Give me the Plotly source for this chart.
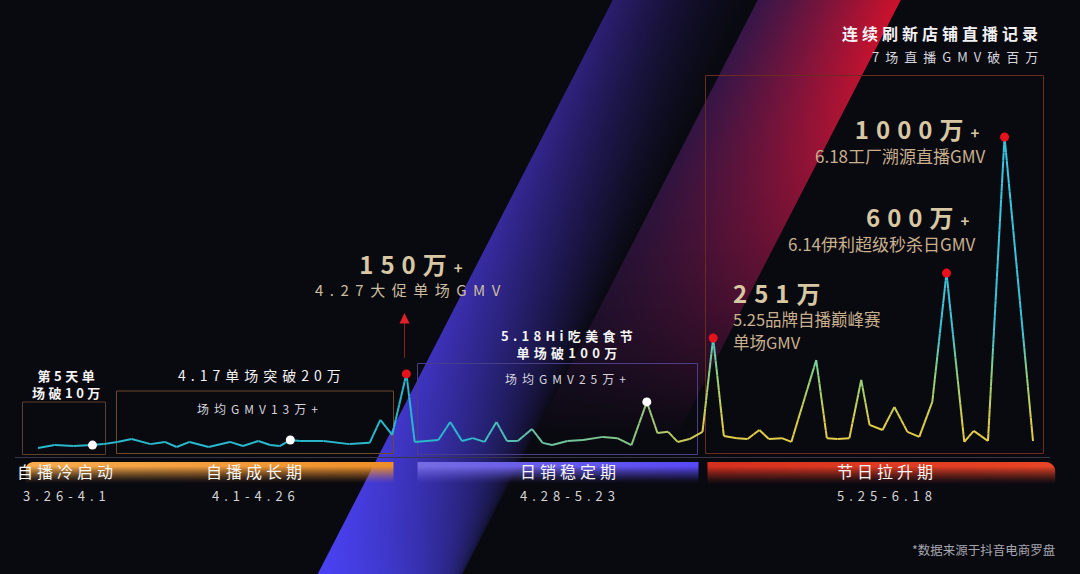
import base64
import math
import struct
import zlib

import numpy as np
import plotly.graph_objects as go

W, H = 1080, 574
FONT = "Noto Sans CJK SC"

# ---------------- data ----------------
# position along the timeline (days after 3.26, as placed in the picture)
t_pos = [0, 1.4, 3.0, 4.6, 5.5, 6.7, 7.9, 9.5, 10.7, 11.7, 12.8, 14.4, 16.2, 17.3,
         18.6, 19.6, 20.4, 21.3, 22.1, 24.1, 26.3, 28.0, 28.9, 29.9,
         31.1,
         31.8, 33.8, 34.8, 35.8, 36.7, 37.7, 38.7, 39.6, 40.5, 41.7, 42.6, 43.4,
         44.7, 46.0, 47.7, 48.9, 50.1, 51.4, 52.3, 53.2, 54.0, 55.0, 56.1,
         57.0,
         57.9, 59.0, 59.9, 60.9, 61.7, 62.8, 63.6, 65.7, 66.6, 67.5, 68.5, 69.5,
         70.2, 71.3, 72.3, 73.4, 74.4, 75.5, 76.7, 78.2, 79.0, 80.2, 81.6, 84.0]
# height of the curve in display units (schematic; 6.18 peak = 1000)
gmv_level = [13, 22, 19, 22, 25, 32, 41, 25, 32, 16, 32, 16, 32, 19, 35, 22, 19, 38,
             35, 35, 25, 29, 102, 54,
             248,
             32, 38, 95, 35, 44, 32, 95, 35, 35, 73, 29, 22, 35, 38, 48, 44, 22, 159,
             60, 64, 32, 41, 64,
             362,
             51, 44, 41, 70, 41, 44, 32, 292, 44, 41, 44, 229, 86, 70, 143, 64, 48,
             159, 568, 32, 67, 35, 1000, 35]
red_idx = [24, 48, 67, 71]      # record sessions
white_idx = [3, 17, 42]         # milestones

stage_names = ["自播冷启动", "自播成长期", "日销稳定期", "节日拉升期"]
stage_dates = ["3.26-4.1", "4.1-4.26", "4.28-5.23", "5.25-6.18"]
peak_values = ["150万", "251万", "600万", "1000万"]
peak_notes = ["4.27大促单场GMV", "5.25品牌自播巅峰赛", "6.14伊利超级秒杀日GMV", "6.18工厂溯源直播GMV"]

X_RANGE = [-3.21, 87.97]
Y_RANGE = [-387.3, 1434.9]

# ---------------- background picture (decoration) ----------------
def build_background():
    Y, X = np.mgrid[0:H, 0:W].astype(float)
    img = np.zeros((H, W, 3))
    img[:] = (9, 9, 16)

    def blend(col, a):
        col = np.asarray(col, dtype=float)
        if col.ndim == 1:
            col = col[None, None, :]
        img[:] = img * (1 - a[..., None]) + col * a[..., None]

    v = Y / (H - 1)
    # blue stripe
    xl = 612 - 0.514 * Y
    wd = 145.0
    u = (X - xl) / wd
    inside = np.clip(np.minimum(X - xl + 0.5, xl + wd - X + 0.5), 0, 1)
    uc = np.clip(u, 0, 1)
    p = 1.6 - 1.3 * v
    a = (1 - uc) ** p * (0.62 + 0.38 * v) * inside
    ctop = np.array([64, 42, 168.0])
    cbot = np.array([74, 66, 244.0])
    col = ctop[None, None, :] * (1 - v[..., None]) + cbot[None, None, :] * v[..., None]
    blend(col, a)

    # red stripe
    xr = 757 - 0.514 * Y
    wr = 143.0
    ur = (X - xr) / wr
    inside_r = np.clip(np.minimum(X - xr + 0.5, xr + wr - X + 0.5), 0, 1)
    urc = np.clip(ur, 0, 1)
    hs = np.clip(Y / 380.0, 0, 1) ** 1.3
    c1 = np.array([205, 18, 44.0])[None, None, :] * (1 - hs[..., None]) + \
        np.array([112, 24, 86.0])[None, None, :] * hs[..., None]
    c0 = np.array([55, 22, 72.0])[None, None, :]
    f = (urc ** 1.1)[..., None]
    colr = c0 * (1 - f) + c1 * f
    av = np.clip(1 - (Y / 435.0) ** 2, 0, 1)
    blend(colr, inside_r * av)

    # stage bands
    def band(x0, x1, y0, y1, cl, cr, rl=0, rr=0):
        hx = np.clip(np.minimum(X - x0 + 0.5, x1 - X + 0.5), 0, 1)
        vy = np.clip(Y - y0 + 0.5, 0, 1)
        m = hx * vy
        if rl:
            cx = x0 + rl
            cy = y0 + rl
            dx = np.maximum(cx - X, 0)
            dy = np.maximum(cy - Y, 0)
            d = np.sqrt(dx ** 2 + dy ** 2)
            m = m * np.clip(rl - d + 0.5, 0, 1)
        if rr:
            cx = x1 - rr
            cy = y0 + rr
            dx = np.maximum(X - cx, 0)
            dy = np.maximum(cy - Y, 0)
            d = np.sqrt(dx ** 2 + dy ** 2)
            m = m * np.clip(rr - d + 0.5, 0, 1)
        fa = np.clip(1.25 * (y1 - Y) / (y1 - y0), 0, 1) ** 1.3
        g = np.clip((X - x0) / (x1 - x0), 0, 1)[..., None]
        colb = np.array(cl, float)[None, None, :] * (1 - g) + np.array(cr, float)[None, None, :] * g
        blend(colb, m * fa)

    band(25, 393, 461.5, 483, (248, 172, 78), (238, 142, 40), rl=8)
    band(417, 698, 461.5, 483, (118, 108, 226), (88, 72, 246))
    band(707, 1055, 461.5, 484, (212, 48, 30), (232, 68, 38), rr=10)

    return np.clip(img + 0.5, 0, 255).astype(np.uint8)


def png_data_uri(arr):
    h, w, _ = arr.shape
    raw = b"".join(b"\x00" + arr[r].tobytes() for r in range(h))

    def chunk(tag, data):
        return (struct.pack(">I", len(data)) + tag + data +
                struct.pack(">I", zlib.crc32(tag + data) & 0xFFFFFFFF))

    png = (b"\x89PNG\r\n\x1a\n" +
           chunk(b"IHDR", struct.pack(">IIBBBBB", w, h, 8, 2, 0, 0, 0)) +
           chunk(b"IDAT", zlib.compress(raw, 9)) + chunk(b"IEND", b""))
    return "data:image/png;base64," + base64.b64encode(png).decode()


# ---------------- line colours ----------------
CYAN = (42, 184, 204)
YELLOW = (226, 206, 72)
LOW_STOPS = [(36, CYAN), (42, (105, 195, 165)), (55, (150, 200, 120)), (61, YELLOW)]
VERT_STOPS = [(90, YELLOW), (230, (150, 210, 120)), (300, (110, 208, 160)),
              (380, (62, 196, 214)), (1000, (55, 200, 230))]


def interp_stops(stops, x):
    if x <= stops[0][0]:
        return stops[0][1]
    for (x0, c0), (x1, c1) in zip(stops, stops[1:]):
        if x <= x1:
            f = (x - x0) / (x1 - x0)
            return tuple(a + (b - a) * f for a, b in zip(c0, c1))
    return stops[-1][1]


def line_color(t, v):
    low = interp_stops(LOW_STOPS, t)
    vert = interp_stops(VERT_STOPS, v)
    w = min(max((t - 50) / 7.0, 0), 1)
    c = [lo + (ve - lo) * w for lo, ve in zip(low, vert)]
    return "rgb(%d,%d,%d)" % tuple(int(round(x)) for x in c)


fig = go.Figure()

for i in range(len(t_pos) - 1):
    t0, v0, t1, v1 = t_pos[i], gmv_level[i], t_pos[i + 1], gmv_level[i + 1]
    n = max(1, math.ceil(abs(v1 - v0) / 25))
    for k in range(n):
        a, b = k / n, (k + 1) / n
        xs = [t0 + (t1 - t0) * a, t0 + (t1 - t0) * b]
        ys = [v0 + (v1 - v0) * a, v0 + (v1 - v0) * b]
        c = line_color((xs[0] + xs[1]) / 2, (ys[0] + ys[1]) / 2)
        fig.add_trace(go.Scatter(x=xs, y=ys, mode="lines",
                                 line=dict(color=c, width=2),
                                 hoverinfo="skip", showlegend=False))

fig.add_trace(go.Scatter(x=[t_pos[i] for i in white_idx], y=[gmv_level[i] for i in white_idx],
                         mode="markers", marker=dict(color="#ffffff", size=9),
                         hoverinfo="skip", showlegend=False))
fig.add_trace(go.Scatter(x=[t_pos[i] for i in red_idx], y=[gmv_level[i] for i in red_idx],
                         mode="markers", marker=dict(color="#e8121c", size=9),
                         hoverinfo="skip", showlegend=False))

# ---------------- decorations ----------------
def px(x):
    return x / W


def py(y):
    return 1 - y / H


shapes = []


def rect(x0, y0, x1, y1, color):
    shapes.append(dict(type="rect", xref="paper", yref="paper",
                       x0=px(x0), x1=px(x1), y0=py(y1), y1=py(y0),
                       line=dict(color=color, width=1), fillcolor="rgba(0,0,0,0)",
                       layer="below"))


rect(22.5, 402, 105.5, 454.5, "#5c4128")
rect(116.5, 391, 393.5, 453.5, "#6e4a2a")
rect(417.5, 363.5, 697.5, 454.5, "#4a3f86")
rect(705.5, 75.5, 1043.5, 453.5, "#6c2a20")
shapes.append(dict(type="line", xref="paper", yref="paper", x0=px(15), x1=px(1050),
                   y0=py(457.5), y1=py(457.5), line=dict(color="#3a3648", width=1),
                   layer="below"))
# arrow towards 150万
shapes.append(dict(type="line", xref="paper", yref="paper", x0=px(404.5), x1=px(404.5),
                   y0=py(358), y1=py(322), line=dict(color="#8e1b1b", width=1)))
shapes.append(dict(type="path", xref="paper", yref="paper",
                   path="M %f %f L %f %f L %f %f Z" % (px(399.5), py(323.5), px(404.5), py(313),
                                                       px(409.5), py(323.5)),
                   fillcolor="#e3202a", line=dict(width=0)))

annotations = []


def sp(s, ls=0, size=None, bold=False, color=None):
    st = []
    if ls:
        st.append("letter-spacing:%spx" % ls)
    if size:
        st.append("font-size:%spx" % size)
    if color:
        st.append("color:%s" % color)
    out = "<span style='%s'>%s</span>" % (";".join(st), s) if st else s
    if bold:
        out = "<b>%s</b>" % out
    return out


def txt(x, y, s, size, color, anchor="center", weight="normal", ls=0,
        yanchor="middle", align=None):
    if ls:
        s = sp(s, ls)
    annotations.append(dict(x=px(x), y=py(y), xref="paper", yref="paper", text=s,
                            showarrow=False, xanchor=anchor, yanchor=yanchor,
                            align=align or anchor if anchor != "center" else "center",
                            font=dict(family=FONT, size=size, color=color, weight=weight)))


GOLD = "#d8c7a3"
TAN = "#c8b08e"
BIG = 24      # size of the big numbers
BIG_LS = 7


def top_of(c1, s1):
    # top of a text block whose first line (font s1) is centred on c1
    return c1 - 0.78 * s1 - 1


txt(1044, 33, "连续刷新店铺直播记录", 16, "#f2f2f4", "right", "bold", 4)
txt(1046, 57, "7场直播GMV破百万", 13, "#d6d6de", "right", "normal", 6)

# 1000万+ / 600万+ : two-line blocks, right aligned
for (c1, xr, val, note) in [(129, 988, peak_values[3], peak_notes[3]),
                           (217, 978, peak_values[2], peak_notes[2])]:
    block = (sp(val, BIG_LS, BIG, True, GOLD) + sp("+", 6, 15, True, GOLD) +
             "<br>" + sp(note, 0, 17, False, TAN))
    txt(xr, top_of(c1, BIG), block, 18.6, TAN, "right", yanchor="top", align="right")

# 251万 block, left aligned
block = (sp(peak_values[1], BIG_LS, BIG, True, GOLD) + "<br>" +
         sp(peak_notes[1], 0, 16.5, False, TAN) + "<br>" + sp("单场GMV", 0, 16.5, False, TAN))
txt(731, top_of(293, BIG), block, 17.8, TAN, "left", yanchor="top", align="left")

# 150万+ block, centred
block = (sp(peak_values[0], BIG_LS, BIG, True, GOLD) + sp("+", 0, 15, True, GOLD) +
         "<br>" + sp(peak_notes[0], 6.5, 15, False, "#cbbd9f"))
txt(411, top_of(264, BIG), block, 16.9, "#cbbd9f", "center", yanchor="top", align="center")

SMALL = 13
txt(569, top_of(335, SMALL), sp("5.18Hi吃美食节", 4.3, SMALL) + "<br>" + sp("单场破100万", 4.3, SMALL),
    13.46, "#f4f4f4", "center", "bold", yanchor="top", align="center")
txt(568, 378, "场均GMV25万+", 12, "#d4d4de", "center", "normal", 5)

txt(68, top_of(375.5, SMALL), sp("第5天单", 3.5, SMALL) + "<br>" + sp("场破10万", 3.5, SMALL),
    13.46, "#f4f4f4", "center", "bold", yanchor="top", align="center")
txt(262, 375, "4.17单场突破20万", 14, "#f4f4f4", "center", "normal", 5)
txt(260, 408, "场均GMV13万+", 12, "#d4d4de", "center", "normal", 5)

stage_x = [67, 256, 570, 887]
for sx, name, date in zip(stage_x, stage_names, stage_dates):
    txt(sx, 471, name, 16, "#f6f6f6", "center", "normal", 4)
    txt(sx, 495, date, 13, "#d6d6d6", "center", "normal", 5)

txt(1057, 549, "*数据来源于抖音电商罗盘", 12.5, "#a6a6ae", "right")

bg = png_data_uri(build_background())

fig.update_layout(
    width=W, height=H, margin=dict(l=0, r=0, t=0, b=0),
    paper_bgcolor="#090910", plot_bgcolor="rgba(0,0,0,0)",
    showlegend=False,
    xaxis=dict(range=X_RANGE, visible=False, fixedrange=True),
    yaxis=dict(range=Y_RANGE, visible=False, fixedrange=True),
    images=[dict(source=bg, xref="paper", yref="paper", x=0, y=1, sizex=1, sizey=1,
                 xanchor="left", yanchor="top", sizing="stretch", layer="below")],
    shapes=shapes,
    annotations=annotations,
    hovermode=False,
)

fig.write_html("out.html", config=dict(displayModeBar=False),
               post_script="document.body.style.margin='0';document.body.style.overflow='hidden';")
